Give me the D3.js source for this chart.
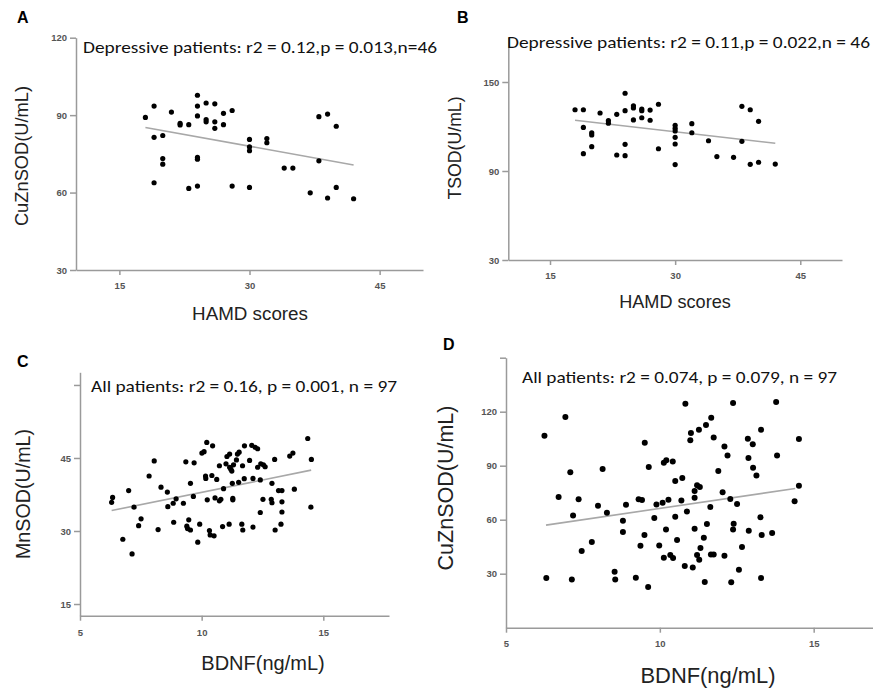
<!DOCTYPE html>
<html>
<head>
<meta charset="utf-8">
<script src="https://cdn.jsdelivr.net/npm/d3@7"></script>
<style>
  body { margin: 0; background: #fff; }
  svg { display: block; }
  .tick text { font-family: "Liberation Sans Narrow", "Liberation Sans", Arial, sans-serif; font-weight: bold; fill: #555; }
  .domain, .tick line { stroke: #9a9a9a; stroke-width: 1.5; }
</style>
</head>
<body>
<div id="chart-area"></div>
<script>
// Panel A: HAMD scores vs CuZnSOD
let aX = [18,19,19,19,20,20,20,21,22,22,23,23,24,24,24,24,24,24,25,25,25,26,26,26,27,27,28,28,30,30,30,30,32,32,34,35,37,38,38,39,39,40,40,42];
let aY = [89.1,93.5,81.4,63.8,82.1,73.2,71.0,91.2,86.8,86.2,86.3,61.6,97.7,93.5,89.7,73.6,72.9,62.5,94.7,88.3,87.4,94.4,87.4,84.9,90.7,86.3,91.8,62.5,80.6,77.7,76.2,62.0,80.9,79.3,69.5,69.5,59.9,89.4,72.3,90.4,57.9,85.7,62.0,57.6];
let aFitX = [18, 42], aFitY = [85.2, 70.7];

// Panel B: HAMD scores vs TSOD
let bX = [18,19,19,19,20,20,20,21,22,22,23,23,24,24,24,24,25,25,25,26,26,26,27,27,28,28,30,30,30,30,30,30,32,32,34,35,37,38,38,39,39,40,40,42];
let bY = [131.3,131.3,119.4,101.7,115.8,114.3,106.4,129.1,123.9,122.2,128.2,100.8,142.4,130.7,108.0,100.3,134.0,132.5,124.4,131.8,130.7,125.9,131.1,124.2,135.0,105.0,120.8,118.8,117.0,112.7,108.2,94.3,121.9,115.8,110.4,99.7,99.2,133.6,110.0,131.3,94.5,123.5,95.9,94.7];
let bFitX = [18, 42], bFitY = [124.2, 108.7];

// Panel C: BDNF vs MnSOD
let cX = [6.34,6.30,6.76,7.14,7.00,7.22,7.51,7.41,7.84,8.05,8.21,8.33,8.59,8.61,8.83,8.95,8.85,9.25,9.35,9.69,9.54,9.66,9.47,9.39,9.42,9.54,9.92,9.84,10.01,10.10,10.21,10.45,10.16,10.17,10.42,10.23,10.55,10.62,10.32,10.35,10.51,10.73,10.79,10.73,10.90,10.86,11.04,11.15,11.00,11.15,11.20,11.24,11.31,11.26,11.28,11.28,11.13,11.47,11.54,11.43,11.68,11.52,11.75,11.65,11.69,11.76,11.97,12.06,12.20,12.30,12.11,12.11,12.30,12.43,12.54,12.61,12.41,12.41,12.52,12.89,12.86,12.89,13.00,13.02,13.16,13.30,13.30,13.30,13.26,13.62,13.75,13.81,14.36,14.51,14.49];
let cY = [36.9,35.9,28.3,25.3,38.3,34.9,32.5,31.1,41.3,44.4,30.3,39.0,38.0,35.0,35.7,36.6,31.8,35.7,44.2,44.0,39.8,37.1,32.3,31.0,30.5,30.2,31.4,27.7,46.0,46.3,48.2,47.5,41.3,40.8,41.4,36.4,36.8,40.6,30.1,29.2,29.0,36.2,36.5,43.4,38.7,30.9,45.3,45.8,43.8,43.1,42.7,42.3,43.6,39.8,36.7,36.4,31.4,45.8,46.2,44.6,43.4,40.0,40.75,31.4,30.2,47.5,44.5,47.6,47.2,46.9,40.8,30.8,43.1,43.8,43.6,43.2,40.5,33.8,36.5,39.8,36.5,35.8,44.7,30.2,38.3,38.3,36.0,33.9,31.4,45.4,46.0,38.6,49.0,44.7,34.9];
let cFitX = [6.3, 14.5], cFitY = [34.2, 42.5];

// Panel D: BDNF vs CuZnSOD
let dX = [6.93,6.25,9.51,7.09,8.14,9.64,10.13,10.21,10.42,10.50,6.71,7.36,7.18,7.99,8.28,8.90,9.31,9.42,9.89,10.09,10.28,8.80,8.80,9.82,9.50,9.37,10.20,9.98,10.50,10.56,10.13,10.34,10.43,7.79,7.46,6.31,7.14,8.53,8.55,9.22,9.62,10.83,12.38,13.78,11.67,11.50,11.27,11.01,10.99,11.75,13.29,14.52,12.86,13.02,12.10,12.20,12.88,13.81,13.03,13.14,11.90,10.73,11.21,11.30,11.13,11.13,10.70,12.04,12.29,12.51,14.52,14.38,11.64,10.88,13.27,11.13,11.53,12.40,12.38,12.89,13.31,13.65,11.43,11.32,12.67,11.21,11.28,11.66,11.75,12.10,10.81,11.07,12.57,11.46,12.32,13.29];
let dY = [117.0,106.7,102.8,86.3,88.2,89.3,91.7,93.0,92.4,81.5,72.6,71.3,62.4,67.8,63.9,68.3,71.3,71.0,68.5,69.4,71.1,59.4,53.1,61.0,51.5,45.5,54.5,45.7,61.7,48.7,38.9,40.4,38.7,47.6,42.6,27.6,26.8,31.1,26.8,27.8,22.6,124.4,124.8,125.4,116.7,112.6,110.0,108.1,104.1,105.6,110.0,104.8,105.0,101.9,100.7,95.7,94.3,95.6,88.9,84.6,87.0,83.1,79.1,78.1,75.9,72.2,70.6,75.2,71.5,68.7,78.9,70.2,67.0,64.6,61.3,55.0,57.6,57.8,54.6,53.9,51.5,52.6,50.0,44.3,44.8,40.4,37.8,40.7,40.7,40.0,34.3,33.5,32.2,25.4,25.2,27.6];
let dFitX = [6.3, 14.4], dFitY = [57.0, 77.3];

// tick values and labels
let hamdTicks = [15, 30, 45];
let bdnfTicks = [5, 10, 15];
let aYTicks = [30, 60, 90, 120];
let bYTicks = [30, 90, 150];
let cYTicks = [15, 30, 45, 60], cYLabels = ["15", "30", "45", ""];
let dYTicks = [30, 60, 90, 120, 150], dYLabels = ["30", "60", "90", "120", ""];

let svg = d3.select("#chart-area").append("svg")
    .attr("width", 873)
    .attr("height", 692);

let panels = [
    {
        label: "A", lx: 17, ly: 23,
        xs: aX, ys: aY, fx: aFitX, fy: aFitY, r: 2.6,
        xDomain: [10, 50], xRange: [76, 423],
        yDomain: [30, 120], yRange: [270, 37.7],
        xTicks: hamdTicks, yTicks: aYTicks, yLabels: null,
        xPad: 7, yTitle: "CuZnSOD(U/mL)", ytx: 22, yty: 156, ytSize: 18.3,
        xTitle: "HAMD scores", xtx: 250, xty: 320, xtSize: 18.8,
        note: "Depressive patients: r2 = 0.12,p = 0.013,n=46", nx: 83, ny: 53, nw: 354
    },
    {
        label: "B", lx: 457, ly: 23,
        xs: bX, ys: bY, fx: bFitX, fy: bFitY, r: 2.6,
        xDomain: [10, 50], xRange: [508.3, 842],
        yDomain: [30, 180], yRange: [260, 37.5],
        xTicks: hamdTicks, yTicks: bYTicks, yLabels: null,
        xPad: 7, yTitle: "TSOD(U/mL)", ytx: 455, yty: 148, ytSize: 17.7,
        xTitle: "HAMD scores", xtx: 675, xty: 308, xtSize: 18.1,
        note: "Depressive patients: r2 = 0.11,p = 0.022,n = 46", nx: 507, ny: 48, nw: 363
    },
    {
        label: "C", lx: 17, ly: 367,
        xs: cX, ys: cY, fx: cFitX, fy: cFitY, r: 2.6,
        xDomain: [5, 17.7], xRange: [80, 389],
        yDomain: [12.6, 62.6], yRange: [615.7, 372.3],
        xTicks: bdnfTicks, yTicks: cYTicks, yLabels: cYLabels,
        xPad: 9, yTitle: "MnSOD(U/mL)", ytx: 23, yty: 494, ytSize: 19.7,
        xTitle: "BDNF(ng/mL)", xtx: 263, xty: 670, xtSize: 20,
        note: "All patients: r2 = 0.16, p = 0.001, n = 97", nx: 91, ny: 392, nw: 306
    },
    {
        label: "D", lx: 443, ly: 350,
        xs: dX, ys: dY, fx: dFitX, fy: dFitY, r: 3,
        xDomain: [5, 17.5], xRange: [506, 890.6],
        yDomain: [0, 150], yRange: [627.7, 357.7],
        xTicks: bdnfTicks, yTicks: dYTicks, yLabels: dYLabels,
        xPad: 8, yTitle: "CuZnSOD(U/mL)", ytx: 445, yty: 488, ytSize: 21.5,
        xTitle: "BDNF(ng/mL)", xtx: 708, xty: 683, xtSize: 21.9,
        note: "All patients: r2 = 0.074, p = 0.079, n = 97", nx: 522, ny: 383, nw: 315
    }
];

panels.forEach(function (p) {
    let x = d3.scaleLinear().domain(p.xDomain).range(p.xRange);
    let y = d3.scaleLinear().domain(p.yDomain).range(p.yRange);

    let xAxis = d3.axisBottom(x)
        .tickValues(p.xTicks)
        .tickSize(5)
        .tickSizeOuter(0)
        .tickPadding(p.xPad)
        .tickFormat(d3.format("d"));

    let yAxis = d3.axisLeft(y)
        .tickValues(p.yTicks)
        .tickSize(6)
        .tickSizeOuter(0)
        .tickPadding(3)
        .tickFormat(function (d, i) { return p.yLabels ? p.yLabels[i] : d; });

    let g = svg.append("g");

    g.append("g")
        .attr("transform", "translate(0," + p.yRange[0] + ")")
        .call(xAxis)
        .selectAll("text").style("font-size", "9.5px");

    g.append("g")
        .attr("transform", "translate(" + p.xRange[0] + ",0)")
        .call(yAxis)
        .selectAll("text").style("font-size", "9.5px");

    // regression line
    g.append("path")
        .datum(d3.zip(p.fx, p.fy))
        .attr("fill", "none")
        .attr("stroke", "#a8a8a8")
        .attr("stroke-width", 1.6)
        .attr("d", d3.line().x(d => x(d[0])).y(d => y(d[1])));

    // points
    g.selectAll(".dot")
        .data(d3.zip(p.xs, p.ys))
        .enter().append("circle")
        .attr("class", "dot")
        .attr("cx", d => x(d[0]))
        .attr("cy", d => y(d[1]))
        .attr("r", p.r)
        .style("fill", "#000");

    // titles
    g.append("text")
        .attr("x", p.xtx)
        .attr("y", p.xty)
        .attr("text-anchor", "middle")
        .style("font-family", "'Liberation Sans', Arial, sans-serif")
        .style("font-size", p.xtSize + "px")
        .style("fill", "#222")
        .text(p.xTitle);

    g.append("text")
        .attr("transform", "translate(" + p.ytx + "," + p.yty + ") rotate(-90)")
        .attr("text-anchor", "middle")
        .attr("dy", "0.35em")
        .style("font-family", "'Liberation Sans', Arial, sans-serif")
        .style("font-size", p.ytSize + "px")
        .style("fill", "#222")
        .text(p.yTitle);

    // statistics note
    g.append("text")
        .attr("x", p.nx)
        .attr("y", p.ny)
        .attr("textLength", p.nw)
        .attr("lengthAdjust", "spacingAndGlyphs")
        .style("font-family", "Carlito, Calibri, Lato, 'Open Sans', sans-serif")
        .style("font-size", "16px")
        .style("fill", "#111")
        .text(p.note);

    // panel letter
    g.append("text")
        .attr("x", p.lx)
        .attr("y", p.ly)
        .style("font-family", "'Liberation Sans', Arial, sans-serif")
        .style("font-weight", "bold")
        .style("font-size", "16px")
        .text(p.label);
});
</script>
</body>
</html>
